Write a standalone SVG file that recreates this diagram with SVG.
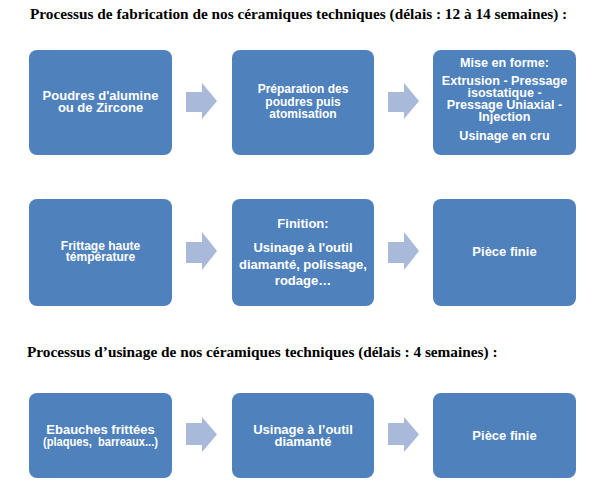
<svg xmlns="http://www.w3.org/2000/svg" width="600" height="491" viewBox="0 0 600 491">
<style>
.box{fill:#4F81BD}
.arr{fill:#A9B9D9}
.t{font-family:"Liberation Sans",Arial,sans-serif;font-weight:bold;fill:#FFFFFF;text-anchor:middle;font-size:13px}
.s{font-size:12px}
.m{font-size:12.6px}
.h{font-family:"Liberation Serif","Times New Roman",serif;font-weight:bold;fill:#000000;font-size:15.3px}
</style>
<rect width="600" height="491" fill="#FFFFFF"/>
<text class="h" x="30" y="19">Processus de fabrication de nos céramiques techniques (délais : 12 à 14 semaines) :</text>
<text class="h" x="27" y="357">Processus d’usinage de nos céramiques techniques (délais : 4 semaines) :</text>

<g id="connectors">
<path class="arr" d="M186,92 H202 V83 L217,101 L202,119 V112 H186 Z"/>
<path class="arr" d="M388,92 H404 V83 L419,101 L404,119 V112 H388 Z"/>
<path class="arr" d="M186,242 H202 V232 L217,251 L202,270 V263 H186 Z"/>
<path class="arr" d="M388,242 H404 V232 L419,251 L404,270 V263 H388 Z"/>
<path class="arr" d="M186,423 H202 V417 L217,434.5 L202,452 V445 H186 Z"/>
<path class="arr" d="M388,423 H404 V417 L419,434.5 L404,452 V445 H388 Z"/>
</g>

<g id="n1">
<rect class="box" x="29" y="50" width="143" height="105" rx="8"/>
<text class="t" x="100.5" y="100">Poudres d'alumine</text>
<text class="t" x="100.5" y="112">ou de Zircone</text>
</g>
<g id="n2">
<rect class="box" x="232" y="50" width="142" height="105" rx="8"/>
<text class="t s" x="303" y="93">Préparation des</text>
<text class="t s" x="303" y="106">poudres puis</text>
<text class="t s" x="303" y="118">atomisation</text>
</g>
<g id="n3">
<rect class="box" x="433" y="50" width="143" height="105" rx="8"/>
<text class="t m" x="504.5" y="66.5">Mise en forme:</text>
<text class="t m" x="504.5" y="84.5">Extrusion - Pressage</text>
<text class="t m" x="504.5" y="96.5">isostatique -</text>
<text class="t m" x="504.5" y="108.5">Pressage Uniaxial -</text>
<text class="t m" x="504.5" y="120.5">Injection</text>
<text class="t m" x="504.5" y="140">Usinage en cru</text>
</g>

<g id="n4">
<rect class="box" x="29" y="199" width="143" height="107" rx="8"/>
<text class="t s" x="100.5" y="250">Frittage haute</text>
<text class="t s" x="100.5" y="261">témpérature</text>
</g>
<g id="n5">
<rect class="box" x="232" y="199" width="142" height="107" rx="8"/>
<text class="t" x="303" y="228">Finition:</text>
<text class="t" x="303" y="252">Usinage à l'outil</text>
<text class="t" x="303" y="268.5">diamanté, polissage,</text>
<text class="t" x="303" y="285">rodage…</text>
</g>
<g id="n6">
<rect class="box" x="433" y="199" width="143" height="107" rx="8"/>
<text class="t" x="504.5" y="256">Pièce finie</text>
</g>

<g id="n7">
<rect class="box" x="29" y="393" width="143" height="85" rx="8"/>
<text class="t" x="100.5" y="434">Ebauches frittées</text>
<text class="t" x="100.5" y="446" textLength="115" lengthAdjust="spacingAndGlyphs" xml:space="preserve">(plaques,  barreaux...)</text>
</g>
<g id="n8">
<rect class="box" x="232" y="393" width="142" height="85" rx="8"/>
<text class="t" x="303" y="434">Usinage à l’outil</text>
<text class="t" x="303" y="446">diamanté</text>
</g>
<g id="n9">
<rect class="box" x="433" y="393" width="143" height="85" rx="8"/>
<text class="t" x="504.5" y="440">Pièce finie</text>
</g>
</svg>
